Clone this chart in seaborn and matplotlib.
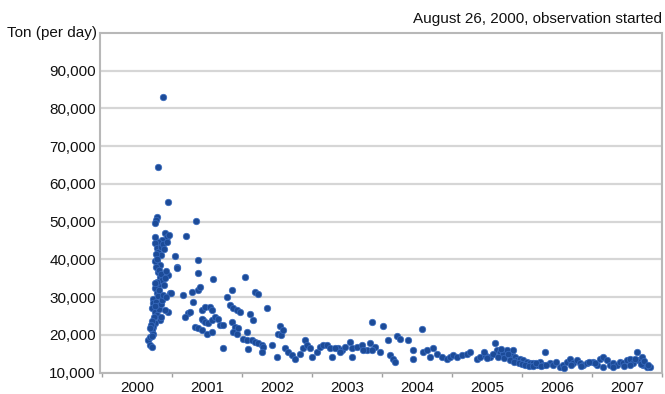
import matplotlib
matplotlib.use("Agg")
import matplotlib.pyplot as plt
import seaborn as sns
import pandas as pd

# Observation date (decimal year) and SO2 emission (tons per day)
years = [
    2000.796, 2000.871, 2000.947, 2000.781, 2000.767, 2000.757, 2001.339, 2000.900, 2000.924, 2000.853,
    2000.804, 2000.757, 2001.196, 2000.781, 2000.804, 2000.843, 2001.043, 2001.367, 2000.781, 2000.757,
    2000.829, 2001.067, 2000.770, 2000.804, 2000.829, 2000.853, 2000.804, 2000.757, 2000.781, 2000.733,
    2000.733, 2000.710, 2000.757, 2000.781, 2000.829, 2000.757, 2000.733, 2000.710, 2000.733, 2000.661,
    2000.686, 2000.686, 2000.714, 2000.947, 2000.971, 2001.161, 2001.281, 2001.376, 2001.304, 2001.424,
    2001.233, 2000.947, 2001.186, 2001.329, 2001.447, 2000.986, 2001.076, 2001.581, 2002.043, 2002.361,
    2001.853, 2001.781, 2001.257,
    2000.750, 2000.770, 2000.790, 2000.810, 2000.840, 2000.790, 2000.760, 2000.820, 2000.800, 2000.770,
    2000.790, 2000.820, 2000.840, 2000.860, 2000.870, 2000.880, 2000.900, 2000.920, 2000.740, 2000.720,
    2000.700, 2000.690, 2000.720, 2000.760, 2000.840, 2000.870, 2000.890, 2000.930, 2000.950, 2000.920,
    2000.900, 2000.850,
    2001.376, 2001.400, 2002.186, 2002.233, 2001.829, 2001.876, 2001.924, 2001.971, 2002.114, 2002.161,
    2001.471, 2001.543, 2001.567, 2001.424, 2001.471, 2001.519, 2001.567, 2001.614, 2001.661, 2001.686,
    2001.376, 2001.424, 2001.496, 2001.567, 2001.733, 2001.853, 2001.900, 2001.947, 2001.876, 2001.924,
    2002.067, 2002.019, 2002.067, 2002.139, 2002.186, 2002.233, 2002.281, 2002.304, 2001.733, 2002.090,
    2002.281, 2002.496, 2002.519, 2002.557, 2002.424, 2002.543, 2002.590,
    2002.614, 2002.661, 2002.710, 2002.757, 2002.829, 2002.876, 2002.900, 2002.924, 2002.971, 2002.996,
    2003.067, 2003.114, 2003.161, 2003.210, 2003.257, 2003.281, 2003.376, 2003.424, 2003.471, 2003.543,
    2003.567, 2003.567, 2003.639, 2003.710, 2003.781, 2003.829, 2003.853, 2003.900, 2003.329, 2003.400,
    2003.733, 2003.853, 2003.971, 2004.019, 2004.090, 2004.114, 2004.161, 2004.186, 2004.210, 2004.257,
    2004.376, 2004.447, 2004.447, 2004.567, 2004.590, 2004.639, 2004.686, 2004.733, 2004.781, 2004.853,
    2004.924, 2004.971, 2005.019, 2005.067, 2005.139, 2005.210, 2005.257, 2005.353, 2005.400, 2005.471,
    2005.543, 2005.614, 2005.639, 2005.686, 2005.733, 2005.781, 2005.853, 2005.876, 2005.900, 2005.924,
    2005.971, 2006.019, 2006.067, 2006.114, 2006.161, 2006.210, 2006.257, 2006.304, 2006.329, 2006.400,
    2006.447, 2006.543, 2006.590, 2006.639, 2006.686, 2006.733, 2006.781, 2006.829, 2006.876, 2006.924,
    2007.019, 2007.067, 2007.114, 2007.161, 2007.210, 2007.257, 2007.304, 2007.353, 2007.400, 2007.447,
    2007.496, 2007.543, 2007.590, 2007.639, 2007.661, 2007.710, 2007.733, 2007.781, 2007.829,
    2005.450, 2005.500, 2005.580, 2005.660, 2005.700, 2005.750, 2005.800, 2005.830, 2005.880, 2005.950,
    2006.000, 2006.050, 2006.100, 2006.150, 2006.200, 2006.270, 2006.350, 2006.480, 2006.600, 2006.700,
    2006.850, 2006.950, 2007.050, 2007.150, 2007.300, 2007.450, 2007.550, 2007.620, 2007.700, 2007.750,
    2007.800,
]
tons = [
    64400, 83000, 55300, 51300, 50400, 49500, 50200, 46900, 46000, 45100,
    44600, 44200, 46300, 42900, 42000, 41100, 40800, 39800, 39300, 39600,
    38500, 37900, 38000, 36700, 35400, 34500, 33200, 32300, 31000, 29600,
    28300, 27000, 26100, 25200, 23900, 23000, 22100, 21200, 20300, 18600,
    17200, 19400, 16800, 35800, 31000, 30500, 31400, 31800, 28700, 26500,
    25700, 26100, 24700, 22100, 23900, 31000, 37600, 34900, 35200, 27100,
    31800, 29900, 26100,
    45800, 41500, 40200, 37200, 36000, 34000, 33600, 31800, 30200, 28800,
    27600, 26800, 28200, 29200, 30600, 33100, 35100, 36900, 24600, 23600,
    22600, 21800, 19800, 27600, 43200, 44000, 42800, 44500, 46500, 30100,
    26500, 24800,
    36300, 32700, 31400, 30900, 27900, 27000, 26500, 26100, 25600, 23900,
    27400, 27400, 26500, 24300, 23400, 23000, 23900, 24700, 24300, 22500,
    21700, 21200, 20300, 20800, 22500, 23400, 22100, 21700, 20800, 20300,
    20800, 19000, 18600, 18600, 18100, 17700, 17200, 16800, 16400, 16100,
    15500, 14000, 20300, 19900, 17200, 22300, 21200,
    16400, 15500, 14600, 13700, 15000, 16400, 18600, 17200, 16400, 14100,
    15500, 16800, 17200, 17200, 16400, 14100, 16400, 15900, 16800, 18100,
    16400, 14100, 16800, 17200, 15900, 17700, 23400, 16800, 16400, 15500,
    15900, 15900, 15500, 22300, 18600, 14600, 13700, 12800, 19600, 18800,
    18600, 15900, 13700, 21500, 15500, 15900, 14100, 16400, 15000, 14100,
    13700, 14100, 14600, 14100, 14600, 15000, 15500, 13700, 14100, 14600,
    14100, 17700, 15900, 15500, 15000, 15900, 14600, 15900, 14100, 13300,
    13700, 13300, 12800, 12400, 12400, 11900, 12800, 11900, 15500, 12400,
    11900, 11500, 11900, 12800, 13700, 12400, 13300, 12400, 11900, 12400,
    12800, 11900, 13700, 14100, 13300, 11900, 12400, 11900, 12800, 12400,
    13300, 13700, 12400, 15500, 13300, 14100, 11900, 11500, 11500,
    15500, 13800, 15000, 14200, 16300, 13900, 14800, 13300, 12900, 12600,
    12200, 11900, 11600, 11800, 12500, 11600, 12000, 12900, 11300, 12000,
    11600, 12900, 12500, 11500, 11500, 11700, 12000, 13500, 12200, 13100,
    12000,
]
tick_years = [2000, 2001, 2002, 2003, 2004, 2005, 2006, 2007]
y_ticks = [10000, 20000, 30000, 40000, 50000, 60000, 70000, 80000, 90000]
note_text = "August 26, 2000, observation started"
unit_text = "Ton (per day)"

sns.set_theme(style="white")
plt.rcParams['font.family'] = ['Liberation Sans', 'DejaVu Sans']

W, H = 665, 394
fig = plt.figure(figsize=(W / 100, H / 100), dpi=100)
ax = fig.add_axes([100 / W, 1 - 372.5 / H, 562 / W, (372.5 - 33) / H])

df = pd.DataFrame({"year": years, "tons": tons})
sns.scatterplot(data=df, x="year", y="tons", ax=ax, color="#1c4b98",
                edgecolor="#3a6cc0", linewidth=0.5, s=22, zorder=3, legend=False)

ax.set_xlim(2000 - 2 / 70, 2008)
ax.set_ylim(10000, 100000)
ax.set_yticks(y_ticks)
ax.set_yticklabels([f"{v:,}" for v in y_ticks])
ax.yaxis.grid(True, color="#d6d6d6", linewidth=1.6, zorder=0)
ax.xaxis.grid(False)
ax.set_axisbelow(True)

ax.set_xticks(list(range(2000, 2009)))
ax.set_xticklabels([])
ax.set_xticks([y + 0.5 for y in tick_years], minor=True)
ax.set_xticklabels([str(y) for y in tick_years], minor=True)
ax.tick_params(axis='x', which='major', bottom=True, length=3, width=1, color="#a0a0a0", direction='out')
ax.tick_params(axis='x', which='minor', bottom=True, length=0, pad=6, labelsize=11, labelcolor="#111111")
ax.tick_params(axis='y', length=0, pad=3, labelsize=11, labelcolor="#111111")
for sp in ax.spines.values():
    sp.set_color("#b8b8b8")
    sp.set_linewidth(1.5)
ax.set_xlabel("")
ax.set_ylabel("")

fig.text(97 / W, 1 - 33 / H, unit_text, ha='right', va='center', fontsize=11, color="#111111")
fig.text(662 / W, 1 - 19 / H, note_text, ha='right', va='center', fontsize=11, color="#111111")

fig.savefig("out.png", dpi=100)
